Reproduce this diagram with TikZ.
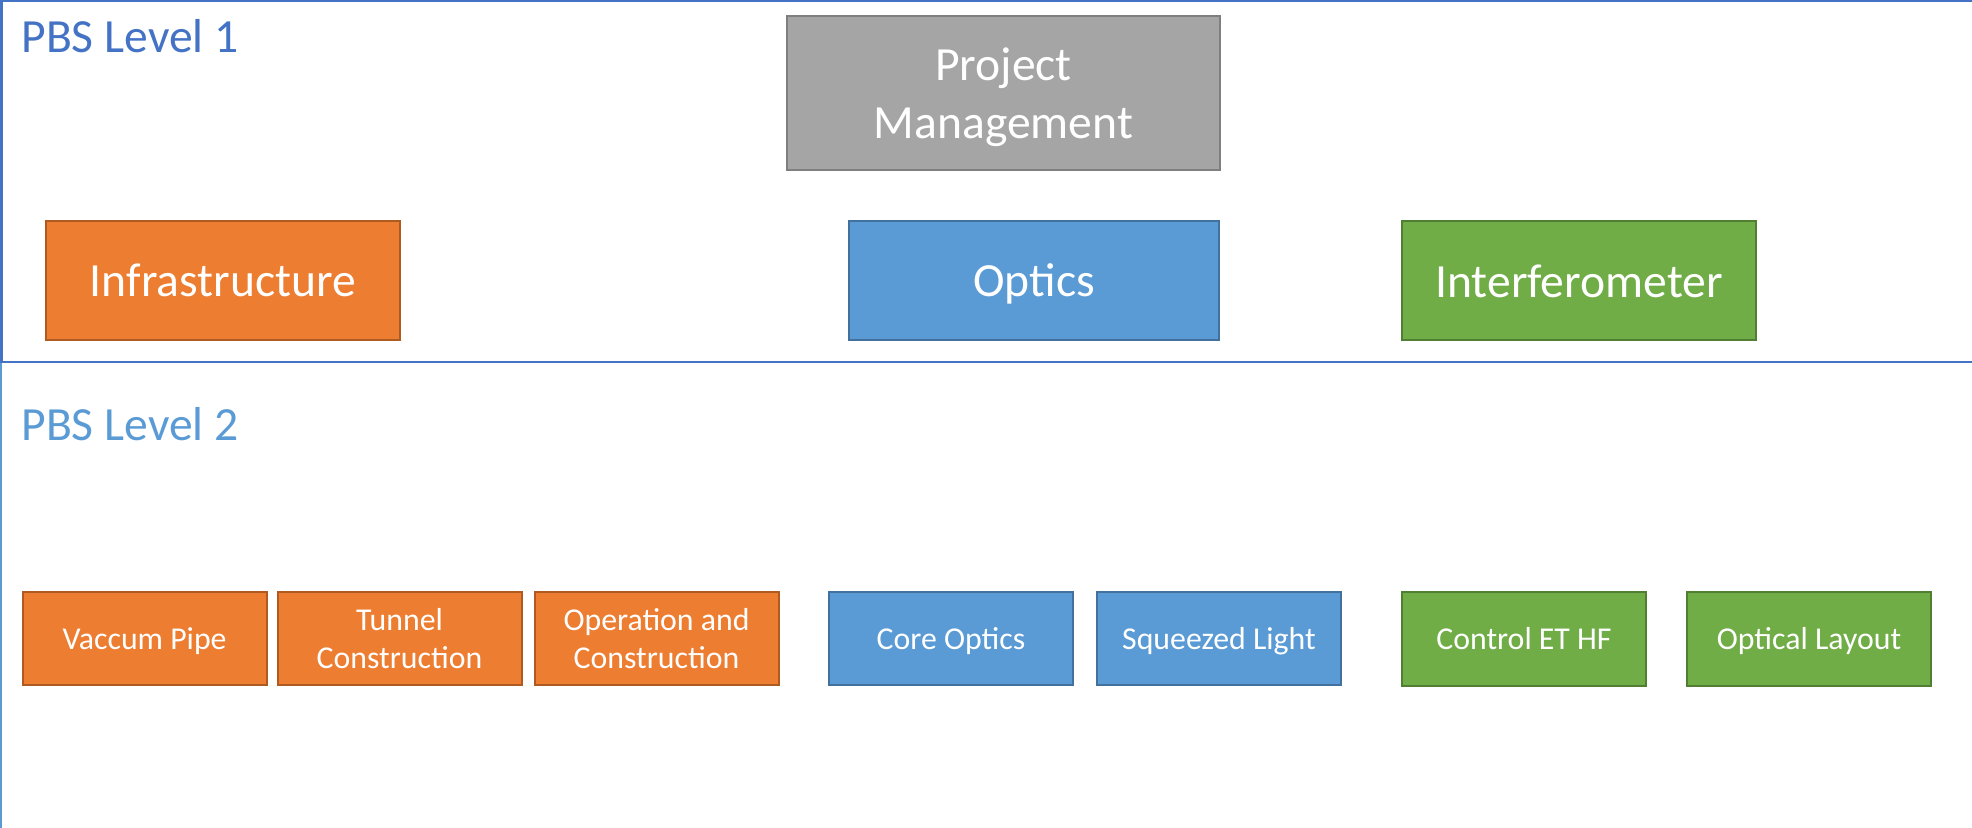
\documentclass[tikz,border=0pt]{standalone}
\usepackage{fontspec}
\setmainfont{Carlito}
\definecolor{lvlone}{HTML}{4472C4}
\definecolor{lvltwo}{HTML}{5B9BD5}
\definecolor{orangeF}{HTML}{ED7D31}
\definecolor{orangeD}{HTML}{AE5A21}
\definecolor{blueF}{HTML}{5B9BD5}
\definecolor{blueD}{HTML}{41719C}
\definecolor{greenF}{HTML}{70AD47}
\definecolor{greenD}{HTML}{507E32}
\definecolor{grayF}{HTML}{A5A5A5}
\definecolor{grayD}{HTML}{7F7F7F}
% struts giving each text block the font's full ascent and descent
\newcommand\upstrut{\rule{0pt}{0.952em}}
\newcommand\downstrut{\rule[-0.269em]{0pt}{0.269em}}
\tikzset{
  pbsbox/.style={rectangle, line width=1pt, inner sep=0pt, align=center, text=white},
  bigbox/.style={pbsbox, font=\fontsize{23.8}{28.8}\selectfont, minimum height=59.5pt},
  smallbox/.style={pbsbox, font=\fontsize{15.9}{19.2}\selectfont, minimum width=122pt, minimum height=46.5pt},
  orangebox/.style={fill=orangeF, draw=orangeD},
  bluebox/.style={fill=blueF, draw=blueD},
  greenbox/.style={fill=greenF, draw=greenD},
  graybox/.style={fill=grayF, draw=grayD},
  leveltitle/.style={anchor=base west, inner sep=0pt, font=\fontsize{23.8}{28.8}\selectfont}
}
\begin{document}
\begin{tikzpicture}[x=0.5pt, y=-0.5pt]
  \useasboundingbox (0,0) rectangle (1972,828);
  \fill[white] (0,0) rectangle (1972,828);

  % level frames
  \draw[lvlone, line width=1.2pt] (1972,1) -- (1.5,1) -- (1.5,362) -- (1972,362);
  \draw[lvltwo, line width=1.2pt] (1.2,362.6) -- (1.2,828);

  \node[leveltitle, text=lvlone] (title1) at (21,53) {PBS Level 1};
  \node[leveltitle, text=lvltwo] (title2) at (21,441) {PBS Level 2};

  % level 1
  \node[bigbox, graybox, minimum width=216.5pt, minimum height=77pt] (pm) at (1003.5,93) {\upstrut Project\\Management\downstrut};
  \node[bigbox, orangebox, minimum width=176.75pt] (infra) at (223,280.5) {\upstrut Infrastructure\downstrut};
  \node[bigbox, bluebox, minimum width=185pt] (optics) at (1034,280.5) {\upstrut Optics\downstrut};
  \node[bigbox, greenbox, minimum width=177pt] (ifo) at (1579,281) {\upstrut Interferometer\downstrut};

  % level 2
  \node[smallbox, orangebox] (vac) at (144.6,638.5) {\upstrut Vaccum Pipe\downstrut};
  \node[smallbox, orangebox] (tunnel) at (399.5,638.5) {\upstrut Tunnel\\Construction\downstrut};
  \node[smallbox, orangebox] (oper) at (656.5,638.5) {\upstrut Operation and\\Construction\downstrut};
  \node[smallbox, bluebox] (core) at (951,638.5) {\upstrut Core Optics\downstrut};
  \node[smallbox, bluebox] (squeeze) at (1219,638.5) {\upstrut Squeezed Light\downstrut};
  \node[smallbox, greenbox] (ctrl) at (1524,639) {\upstrut Control ET HF\downstrut};
  \node[smallbox, greenbox] (layout) at (1809,639) {\upstrut Optical Layout\downstrut};
\end{tikzpicture}
\end{document}
